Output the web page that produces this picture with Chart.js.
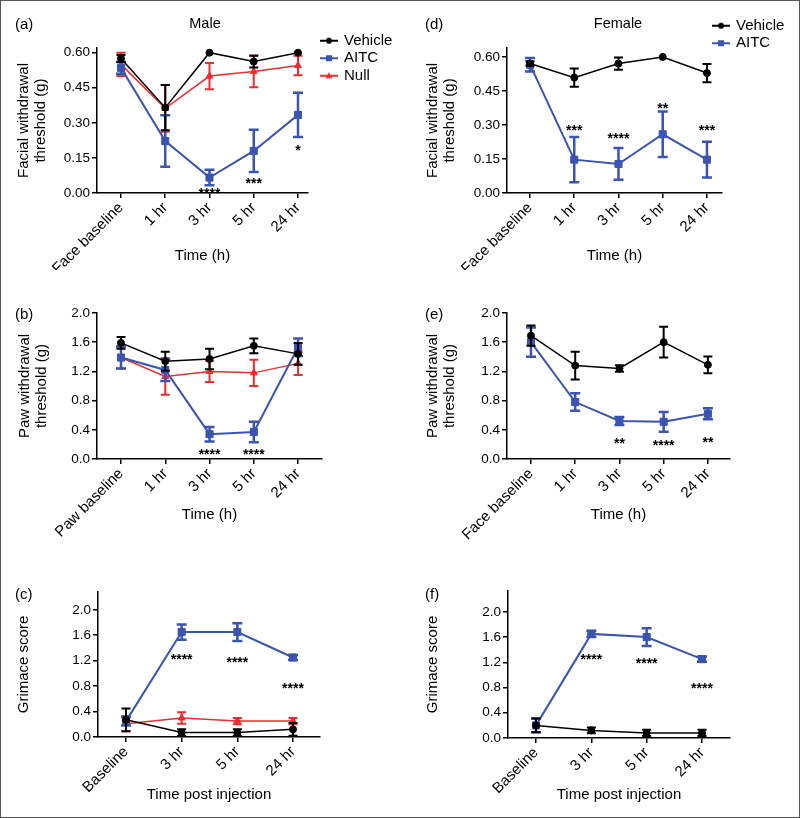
<!DOCTYPE html>
<html>
<head>
<meta charset="utf-8">
<script src="https://cdn.jsdelivr.net/npm/chart.js@4.4.0/dist/chart.umd.min.js"></script>
<style>
  html, body { margin: 0; padding: 0; background: #fff; }
  #figure { position: relative; width: 800px; height: 818px; font-family: 'Liberation Sans', Arial, sans-serif; color: #000; }
  #figure canvas { position: absolute; }
  .tag { position: absolute; font-size: 15px; line-height: 1; transform: translateY(-50%); }
  .sex { position: absolute; font-size: 14.5px; line-height: 1; transform: translate(-50%, -50%); }
  #frame { position: absolute; left: 0; top: 0; width: 800px; height: 818px; box-sizing: border-box; border: 1px solid #555; pointer-events: none; }
</style>
</head>
<body>
<div id="figure">
  <canvas id="panelA" width="400" height="270" style="left:0;top:0"></canvas>
  <canvas id="panelD" width="400" height="270" style="left:400px;top:0"></canvas>
  <canvas id="panelB" width="400" height="270" style="left:0;top:270px"></canvas>
  <canvas id="panelE" width="400" height="270" style="left:400px;top:270px"></canvas>
  <canvas id="panelC" width="400" height="276" style="left:0;top:540px"></canvas>
  <canvas id="panelF" width="400" height="276" style="left:400px;top:540px"></canvas>
  <div class="tag" style="left:15px;top:23px">(a)</div>
  <div class="tag" style="left:425px;top:23px">(d)</div>
  <div class="tag" style="left:15px;top:313px">(b)</div>
  <div class="tag" style="left:425px;top:313px">(e)</div>
  <div class="tag" style="left:15px;top:593px">(c)</div>
  <div class="tag" style="left:425px;top:593px">(f)</div>
  <div class="sex" style="left:205px;top:23px">Male</div>
  <div class="sex" style="left:618px;top:23px">Female</div>
  <div id="frame"></div>
</div>
<script>
// categories and tick labels
const faceLabels = ['Face baseline', '1 hr', '3 hr', '5 hr', '24 hr'];
const pawLabels = ['Paw baseline', '1 hr', '3 hr', '5 hr', '24 hr'];
const grimaceLabels = ['Baseline', '3 hr', '5 hr', '24 hr'];
const faceTicks = [0, 0.15, 0.30, 0.45, 0.60];
const pawTicks = [0, 0.4, 0.8, 1.2, 1.6, 2.0];
const grimaceTicks = [0, 0.4, 0.8, 1.2, 1.6, 2.0];

// (a) male, facial withdrawal threshold
const maleFaceVehicle = [0.575, 0.365, 0.60, 0.562, 0.60];
const maleFaceVehicleErr = [0.015, 0.097, 0, 0.025, 0];
const maleFaceAitc = [0.535, 0.222, 0.066, 0.18, 0.334];
const maleFaceAitcErr = [0.025, 0.11, 0.033, 0.09, 0.095];
const maleFaceNull = [0.55, 0.362, 0.50, 0.52, 0.545];
const maleFaceNullErr = [0.05, 0.1, 0.056, 0.068, 0.042];
const maleFaceStars = ['', '', '****', '***', '*'];
const maleFaceStarsAt = [null, null, 0.011, 0.055, 0.198];

// (d) female, facial withdrawal threshold
const femaleFaceVehicle = [0.571, 0.509, 0.571, 0.60, 0.529];
const femaleFaceVehicleErr = [0.01, 0.04, 0.027, 0, 0.04];
const femaleFaceAitc = [0.566, 0.147, 0.128, 0.259, 0.147];
const femaleFaceAitcErr = [0.03, 0.1, 0.07, 0.1, 0.079];
const femaleFaceStars = ['', '***', '****', '**', '***'];
const femaleFaceStarsAt = [null, 0.291, 0.254, 0.387, 0.291];

// (b) male, paw withdrawal threshold
const malePawVehicle = [1.59, 1.34, 1.37, 1.55, 1.44];
const malePawVehicleErr = [0.08, 0.13, 0.14, 0.1, 0.15];
const malePawAitc = [1.39, 1.22, 0.34, 0.37, 1.53];
const malePawAitcErr = [0.15, 0.15, 0.1, 0.14, 0.12];
const malePawNull = [1.39, 1.13, 1.2, 1.18, 1.31];
const malePawNullErr = [0.15, 0.25, 0.145, 0.18, 0.16];
const malePawStars = ['', '', '****', '****', ''];
const malePawStarsAt = [null, null, 0.105, 0.105, null];

// (e) female, paw withdrawal threshold
const femalePawVehicle = [1.69, 1.28, 1.24, 1.6, 1.29];
const femalePawVehicleErr = [0.14, 0.19, 0.045, 0.21, 0.115];
const femalePawAitc = [1.6, 0.78, 0.52, 0.51, 0.62];
const femalePawAitcErr = [0.2, 0.12, 0.055, 0.135, 0.075];
const femalePawStars = ['', '', '**', '****', '**'];
const femalePawStarsAt = [null, null, 0.265, 0.228, 0.274];

// (c) male, grimace score
const maleGrimVehicle = [0.27, 0.07, 0.07, 0.12];
const maleGrimVehicleErr = [0.18, 0.05, 0.05, 0.1];
const maleGrimAitc = [0.25, 1.65, 1.65, 1.25];
const maleGrimAitcErr = [0.07, 0.12, 0.14, 0.04];
const maleGrimNull = [0.21, 0.3, 0.25, 0.25];
const maleGrimNullErr = [0.12, 0.09, 0.05, 0.05];
const maleGrimStars = ['', '****', '****', '****'];
const maleGrimStarsAt = [null, 1.267, 1.22, 0.822];

// (f) female, grimace score
const femaleGrimVehicle = [0.2, 0.12, 0.08, 0.08];
const femaleGrimVehicleErr = [0.11, 0.045, 0.05, 0.05];
const femaleGrimAitc = [0.2, 1.65, 1.6, 1.25];
const femaleGrimAitcErr = [0.11, 0.05, 0.14, 0.04];
const femaleGrimStars = ['', '****', '****', '****'];
const femaleGrimStarsAt = [null, 1.296, 1.243, 0.836];

const FONT = "'Liberation Sans', Arial, sans-serif";
Chart.defaults.font.family = FONT;
Chart.defaults.color = '#000';

const groups = {
  Vehicle: { color: '#000000', pointStyle: 'circle', radius: 3.5, width: 1.5, errWidth: 2, cap: 4.5 },
  AITC: { color: '#3b54b2', pointStyle: 'rect', radius: 5, width: 2, errWidth: 2.5, cap: 5 },
  Null: { color: '#ee2b2f', pointStyle: 'triangle', radius: 4, width: 1.5, errWidth: 2, cap: 4.5 },
};

function series(name, values, errors) {
  const g = groups[name];
  return {
    label: name,
    data: values.map((v, i) => ({ x: i, y: v })),
    errors: errors,
    errorWidth: g.errWidth,
    capWidth: g.cap,
    borderColor: g.color,
    backgroundColor: g.color,
    borderWidth: g.width,
    pointStyle: g.pointStyle,
    pointRadius: g.radius,
    pointBorderWidth: 1,
    tension: 0,
    clip: false,
  };
}

// little line+marker picture for the legend rows
function legendIcon(name) {
  const g = groups[name];
  const c = document.createElement('canvas');
  c.width = 18; c.height = 10;
  const k = c.getContext('2d');
  k.strokeStyle = g.color; k.fillStyle = g.color; k.lineWidth = 2;
  k.beginPath(); k.moveTo(0, 5); k.lineTo(18, 5); k.stroke();
  k.beginPath();
  if (g.pointStyle === 'circle') k.arc(9, 5, 3, 0, Math.PI * 2);
  else if (g.pointStyle === 'rect') k.rect(6, 2, 6, 6);
  else { k.moveTo(9, 1.5); k.lineTo(12.5, 7.5); k.lineTo(5.5, 7.5); k.closePath(); }
  k.fill();
  return c;
}

const errorBars = {
  id: 'errorBars',
  beforeDatasetDraw(chart, args) {
    const ds = chart.data.datasets[args.index];
    if (!ds.errors) return;
    const { ctx, scales: { x, y } } = chart;
    ctx.save();
    ctx.strokeStyle = ds.borderColor;
    ctx.lineWidth = ds.errorWidth;
    ds.data.forEach((pt, i) => {
      const e = ds.errors[i];
      if (!e) return;
      const px = x.getPixelForValue(pt.x);
      const hi = y.getPixelForValue(pt.y + e);
      const lo = y.getPixelForValue(Math.max(pt.y - e, y.min));
      const cap = ds.capWidth;
      ctx.beginPath();
      ctx.moveTo(px, hi); ctx.lineTo(px, lo);
      ctx.moveTo(px - cap, hi); ctx.lineTo(px + cap, hi);
      ctx.moveTo(px - cap, lo); ctx.lineTo(px + cap, lo);
      ctx.stroke();
    });
    ctx.restore();
  }
};

const stars = {
  id: 'stars',
  afterDatasetsDraw(chart, args, opts) {
    if (!opts.text) return;
    const { ctx, scales: { x, y } } = chart;
    ctx.save();
    ctx.fillStyle = '#000';
    ctx.font = 'bold 14px ' + FONT;
    ctx.textAlign = 'center';
    ctx.textBaseline = 'alphabetic';
    opts.text.forEach((t, i) => {
      if (!t) return;
      ctx.fillText(t, x.getPixelForValue(i), y.getPixelForValue(opts.at[i]) + 8);
    });
    ctx.restore();
  }
};

// put the legend beside the plot, top right
const legendSpot = {
  id: 'legendSpot',
  afterLayout(chart, args, opts) {
    if (opts.left == null || !chart.legend) return;
    const lg = chart.legend;
    lg.left = opts.left; lg.top = opts.top;
    lg.right = opts.left + 90; lg.bottom = opts.top + 70;
    lg.width = 90; lg.height = 70;
  }
};

function drawPanel(p) {
  const axisLine = { color: '#000', width: 1.5 };
  const tickMarks = { drawOnChartArea: false, drawTicks: true, tickLength: 5, color: '#000', lineWidth: 1.5 };
  new Chart(document.getElementById(p.id), {
    type: 'line',
    data: { datasets: p.datasets },
    options: {
      responsive: false,
      animation: false,
      layout: { padding: p.pad },
      plugins: {
        tooltip: { enabled: false },
        legend: p.legend ? {
          display: true,
          position: 'chartArea',
          align: 'start',
          labels: {
            usePointStyle: true,
            pointStyleWidth: 15,
            padding: 2.5,
            color: '#000',
            font: { size: 15 },
            generateLabels: chart => chart.data.datasets.map((ds, i) => ({
              text: ds.label, pointStyle: legendIcon(ds.label), rotation: 0,
              fillStyle: ds.borderColor, strokeStyle: ds.borderColor, lineWidth: 0,
              fontColor: '#000', hidden: false, datasetIndex: i,
            })),
          },
        } : { display: false },
        legendSpot: p.legend || {},
        stars: { text: p.stars, at: p.starsAt },
      },
      scales: {
        x: {
          type: 'linear', min: p.xMin, max: p.xMax, bounds: 'data',
          afterBuildTicks: s => { s.ticks = p.labels.map((_, i) => ({ value: i })); },
          afterFit: s => { s.height = p.xHeight; },
          ticks: { autoSkip: false, minRotation: 45, maxRotation: 45, padding: 1, color: '#000',
                   font: { size: 15 }, callback: v => p.labels[v] },
          grid: tickMarks,
          border: axisLine,
          title: { display: true, text: p.xTitle, color: '#000', font: { size: 15, lineHeight: 1.2 },
                   padding: { top: 0, bottom: p.xTitlePad } },
        },
        y: {
          type: 'linear', min: 0, max: p.yMax, bounds: 'data',
          afterBuildTicks: s => { s.ticks = p.yTicks.map(v => ({ value: v })); },
          afterFit: s => { s.width = p.yWidth; },
          ticks: { padding: 2, color: '#000', font: { size: 13.5 },
                   callback: v => Number(v).toFixed(p.decimals) },
          grid: tickMarks,
          border: axisLine,
          title: { display: true, text: p.yTitle, color: '#000', font: { size: 15, lineHeight: 1.12 },
                   padding: { top: p.yTitlePad, bottom: 0 } },
        },
      },
    },
    plugins: [errorBars, stars, legendSpot],
  });
}

drawPanel({
  id: 'panelA', labels: faceLabels, yTicks: faceTicks, decimals: 2, yMax: 0.62,
  xMin: -0.542, xMax: 4.226, pad: { left: 0, top: 48, right: 92, bottom: 0 },
  yWidth: 97, xHeight: 77, yTitle: ['Facial withdrawal', 'threshold (g)'], yTitlePad: 15.6,
  xTitle: 'Time (h)', xTitlePad: 5,
  datasets: [
    series('Vehicle', maleFaceVehicle, maleFaceVehicleErr),
    series('AITC', maleFaceAitc, maleFaceAitcErr),
    series('Null', maleFaceNull, maleFaceNullErr),
  ],
  stars: maleFaceStars, starsAt: maleFaceStarsAt,
  legend: { left: 319, top: 30.7 },
});

drawPanel({
  id: 'panelD', labels: faceLabels, yTicks: faceTicks, decimals: 2, yMax: 0.64,
  xMin: -0.52, xMax: 4.34, pad: { left: 0, top: 47.9, right: 78, bottom: 0 },
  yWidth: 107, xHeight: 77, yTitle: ['Facial withdrawal', 'threshold (g)'], yTitlePad: 24.6,
  xTitle: 'Time (h)', xTitlePad: 5,
  datasets: [
    series('Vehicle', femaleFaceVehicle, femaleFaceVehicleErr),
    series('AITC', femaleFaceAitc, femaleFaceAitcErr),
  ],
  stars: femaleFaceStars, starsAt: femaleFaceStarsAt,
  legend: { left: 311, top: 15.7 },
});

drawPanel({
  id: 'panelB', labels: pawLabels, yTicks: pawTicks, decimals: 1, yMax: 2.0,
  xMin: -0.542, xMax: 4.54, pad: { left: 0, top: 43, right: 78, bottom: 0 },
  yWidth: 97, xHeight: 81, yTitle: ['Paw withdrawal', 'threshold (g)'], yTitlePad: 16.6,
  xTitle: 'Time (h)', xTitlePad: 16,
  datasets: [
    series('Vehicle', malePawVehicle, malePawVehicleErr),
    series('AITC', malePawAitc, malePawAitcErr),
    series('Null', malePawNull, malePawNullErr),
  ],
  stars: malePawStars, starsAt: malePawStarsAt,
  legend: null,
});

drawPanel({
  id: 'panelE', labels: faceLabels, yTicks: pawTicks, decimals: 1, yMax: 2.0,
  xMin: -0.542, xMax: 4.5, pad: { left: 0, top: 43, right: 70, bottom: 0 },
  yWidth: 107, xHeight: 81, yTitle: ['Paw withdrawal', 'threshold (g)'], yTitlePad: 24.6,
  xTitle: 'Time (h)', xTitlePad: 16,
  datasets: [
    series('Vehicle', femalePawVehicle, femalePawVehicleErr),
    series('AITC', femalePawAitc, femalePawAitcErr),
  ],
  stars: femalePawStars, starsAt: femalePawStarsAt,
  legend: null,
});

drawPanel({
  id: 'panelC', labels: grimaceLabels, yTicks: grimaceTicks, decimals: 1, yMax: 2.28,
  xMin: -0.503, xMax: 3.485, pad: { left: 0, top: 52, right: 80, bottom: 0 },
  yWidth: 98, xHeight: 79, yTitle: 'Grimace score', yTitlePad: 15.6,
  xTitle: 'Time post injection', xTitlePad: 12,
  datasets: [
    series('Vehicle', maleGrimVehicle, maleGrimVehicleErr),
    series('AITC', maleGrimAitc, maleGrimAitcErr),
    series('Null', maleGrimNull, maleGrimNullErr),
  ],
  stars: maleGrimStars, starsAt: maleGrimStarsAt,
  legend: null,
});

drawPanel({
  id: 'panelF', labels: grimaceLabels, yTicks: grimaceTicks, decimals: 1, yMax: 2.33,
  xMin: -0.506, xMax: 3.506, pad: { left: 0, top: 51, right: 70, bottom: 0 },
  yWidth: 108, xHeight: 78, yTitle: 'Grimace score', yTitlePad: 24.6,
  xTitle: 'Time post injection', xTitlePad: 12,
  datasets: [
    series('Vehicle', femaleGrimVehicle, femaleGrimVehicleErr),
    series('AITC', femaleGrimAitc, femaleGrimAitcErr),
  ],
  stars: femaleGrimStars, starsAt: femaleGrimStarsAt,
  legend: null,
});
</script>
</body>
</html>
